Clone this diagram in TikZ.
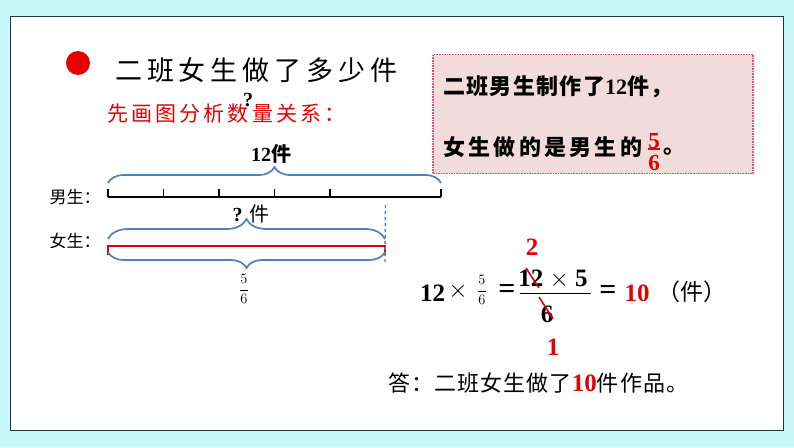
\documentclass[tikz,border=0pt]{standalone}
\usepackage{fontspec}
\setmainfont{Liberation Serif}
\newfontfamily\cjk{Noto Sans CJK SC}
\newfontfamily\cjktitle[LetterSpace=18]{Noto Sans CJK SC}
\newfontfamily\cjkhint[LetterSpace=15]{Noto Sans CJK SC}
\newfontfamily\cjkboxa[LetterSpace=6]{Noto Sans CJK SC}
\newfontfamily\cjkboxb[LetterSpace=15]{Noto Sans CJK SC}
\newfontfamily\cjkans[LetterSpace=5]{Noto Sans CJK SC}
\usetikzlibrary{decorations.pathreplacing}

\definecolor{bgcyan}{RGB}{200,248,250}
\definecolor{frameedge}{RGB}{30,55,60}
\definecolor{braceblue}{RGB}{79,129,189}
\definecolor{mred}{RGB}{230,0,0}
\definecolor{boxpink}{RGB}{242,220,219}
\definecolor{boxedge}{RGB}{225,80,125}

\newcommand{\fs}[1]{\fontsize{#1}{#1}\selectfont}

\tikzset{
  every node/.style={inner sep=0pt},
  blubrace/.style={decorate, decoration={brace, amplitude=#1}, draw=braceblue, line width=1.7pt},
  tickline/.style={line width=1.6pt},
  num/.style={font=\fs{25}\bfseries},
  rednum/.style={num, text=mred},
  eqsign/.style={font=\fs{30}\bfseries},
}

\begin{document}
\begin{tikzpicture}[x=1pt, y=-1pt]
\fill[bgcyan] (0,0) rectangle (794,447);
\draw[fill=white, draw=frameedge, line width=0.8pt] (10,16) rectangle (783,430);
\useasboundingbox (0,0) rectangle (794,447);

\node (dot)   [circle, fill=mred, minimum size=24pt] at (78,63) {};
\node (title) [anchor=west, font=\cjktitle\fs{27}] at (115,70) {二班女生做了多少件};
\node (qmark) [font=\fs{20}\bfseries] at (248,100) {?};
\node (hint)  [anchor=west, font=\cjkhint\fs{21}, text=mred] at (107,114) {先画图分析数量关系：};

\node (info) [draw=boxedge, densely dotted, fill=boxpink, line width=1.6pt,
              minimum width=320pt, minimum height=119pt] at (593,114) {};
\node (line1) [anchor=west, font=\cjkboxa\fs{22}\bfseries] at (443,87)
  {二班男生制作了{\rmfamily 12}件，};
\node (line2) [anchor=west, font=\cjkboxb\fs{22}\bfseries] at (443,147) {女生做的是男生的};
\node (fnum)  [font=\fs{23}\bfseries, text=mred] at (654,141) {5};
\node (fden)  [font=\fs{23}\bfseries, text=mred] at (654,163) {6};
\node (stop)  [anchor=west, font=\cjk\fs{22}\bfseries] at (663,152) {。};
\draw[mred, line width=1.4pt] (fnum.south west) -- (fnum.south east);

\node (boys)  [font=\cjk\fs{17}] at (75,197) {男生：};
\node (girls) [font=\cjk\fs{17}] at (75,241) {女生：};

\foreach \i in {0,...,6}
  \coordinate (m\i) at (108+55.5*\i,197);
\draw[tickline] (m0) -- (m6);
\foreach \i in {0,1,2,3,4,6}
  \draw[tickline] (m\i) -- ++(0,-8);

\coordinate (g0) at (108,246);
\coordinate (g1) at (385,246);
\draw[mred, line width=2.4pt] ([yshift=-9pt]g0) -- (g0) -- (g1) -- ([yshift=-9pt]g1);
\draw[braceblue, dashed, line width=1.4pt] ([yshift=-8pt]m5) -- (385,264);

\draw[blubrace=16pt] (108,183) -- (441,183);
\draw[blubrace=20pt] (108,239) -- (385,239);
\draw[blubrace=16pt] (385,252) -- (108,252);

\node (total) [font=\fs{20}] at (271,154) {\bfseries 12{\cjk 件}};
\node (part)  [font=\fs{20}] at (251,214) {\bfseries ? {\cjk\mdseries 件}};
\node (ratio) [font=\fs{14}] at (244,289) {$\displaystyle\frac{5}{6}$};

\node (e12)   [num, anchor=west] at (420,293) {12};
\node (etimes)[font=\fs{24}] at (458,291) {$\times$};
\node (efrac) [font=\fs{15}] at (482,290) {$\displaystyle\frac{5}{6}$};
\node (eeq1)  [eqsign] at (507,291) {=};
\node (enum)  [num] at (553,279) {12 $\times$ 5};
\node (eden)  [num] at (547,314) {6};
\draw[line width=1pt] (520,293) -- (591,293);
\node (eeq2)  [eqsign] at (608,292) {=};
\node (eres)  [rednum] at (637,293) {10};
\node (eunit) [font=\cjk\fs{23}] at (692,292) {（件）};
\node (etwo)  [rednum] at (532,247) {2};
\node (eone)  [rednum] at (553,347) {1};
\draw[mred, line width=1.6pt] (526,268) -- (539,288);
\draw[mred, line width=1.6pt] (539,297) -- (553,319);

\node (answer) [anchor=west, font=\cjkans\fs{22}] at (388,383)
  {答：二班女生做了{\rmfamily\fs{25}\bfseries\color{mred}10}件作品。};
\end{tikzpicture}
\end{document}
